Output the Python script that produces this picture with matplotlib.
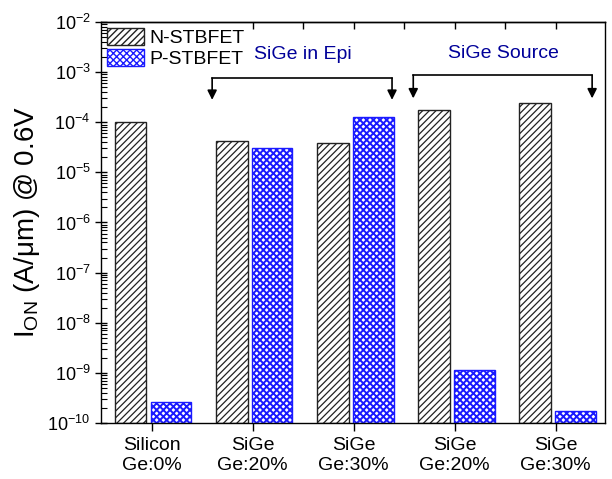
import numpy as np
import matplotlib
matplotlib.use("Agg")
import matplotlib.pyplot as plt
from matplotlib.ticker import LogLocator, FixedLocator, NullFormatter

plt.rcParams["font.family"] = ["Liberation Sans", "DejaVu Sans"]
plt.rcParams["mathtext.fontset"] = "custom"
plt.rcParams["mathtext.rm"] = "Liberation Sans"
plt.rcParams["mathtext.it"] = "Liberation Sans:italic"

# data (A/um at 0.6 V)
categories = ["Silicon\nGe:0%", "SiGe\nGe:20%", "SiGe\nGe:30%", "SiGe\nGe:20%", "SiGe\nGe:30%"]
n_stbfet = [1.0e-4, 4.3e-5, 3.9e-5, 1.75e-4, 2.4e-4]
p_stbfet = [2.6e-10, 3.0e-5, 1.26e-4, 1.15e-9, 1.75e-10]
group_labels = ["SiGe in Epi", "SiGe Source"]

BASE = 1e-10
x = np.arange(len(categories))

fig = plt.figure(figsize=(6.12, 4.79), dpi=100)
ax = fig.add_axes([0.165, 0.117, 0.824, 0.837])

with plt.rc_context({"hatch.linewidth": 0.9}):
    ax.bar(x - 0.205, np.array(n_stbfet) - BASE, width=0.31, bottom=BASE,
           facecolor="white", edgecolor="#222222", hatch="/////",
           linewidth=1.0, label="N-STBFET")
with plt.rc_context({"hatch.linewidth": 1.4}):
    ax.bar(x + 0.195, np.array(p_stbfet) - BASE, width=0.40, bottom=BASE,
           facecolor="white", edgecolor="#1a1aff", hatch="xxxxx",
           linewidth=1.0, label="P-STBFET")

ax.set_yscale("log")
ax.set_ylim(1e-10, 1e-2)
ax.set_xlim(-0.5, 4.49)

ax.set_xticks(x)
ax.set_xticklabels(categories, fontsize=14, linespacing=1.25)
ax.tick_params(axis="x", direction="out", length=6, width=1, pad=4, top=False)

ax.yaxis.set_major_locator(LogLocator(base=10, numticks=20))
ax.yaxis.set_minor_locator(LogLocator(base=10, subs=np.arange(2, 10), numticks=20))
ax.yaxis.set_minor_formatter(NullFormatter())
ax.tick_params(axis="y", which="major", direction="inout", length=8, width=1, labelsize=13)
ax.tick_params(axis="y", which="minor", direction="in", length=4, width=0.8)

top = ax.secondary_xaxis("top")
top.xaxis.set_major_locator(FixedLocator(np.arange(1, 4.51, 0.5)))
top.tick_params(direction="in", length=5, width=1, labeltop=False)

for sp in list(ax.spines.values()) + [top.spines["top"]]:
    sp.set_linewidth(1.0)

ax.set_ylabel("I$_{\\mathrm{ON}}$ (A/μm) @ 0.6V", fontsize=20, labelpad=4)


# brackets with down arrows
def bracket(x0, x1, y_line, y_tip):
    ax.plot([x0, x1], [y_line, y_line], color="black", lw=1.2)
    for xx in (x0, x1):
        ax.annotate("", xy=(xx, y_tip), xytext=(xx, y_line),
                    arrowprops=dict(arrowstyle="-|>", color="black", lw=1.2,
                                    mutation_scale=14, shrinkA=0, shrinkB=0))


bracket(0.60, 2.38, 7.6e-4, 2.8e-4)
bracket(2.59, 4.36, 8.7e-4, 3.0e-4)

ax.text(1.5, 2.2e-3, group_labels[0], color="#000099", fontsize=14, ha="center", va="center")
ax.text(3.48, 2.4e-3, group_labels[1], color="#000099", fontsize=14, ha="center", va="center")

ax.legend(loc="upper left", frameon=False, fontsize=14, handlelength=1.9,
          handleheight=0.95, handletextpad=0.3, labelspacing=0.12,
          borderaxespad=0.15, borderpad=0.15)

fig.savefig("out.png", dpi=100)
